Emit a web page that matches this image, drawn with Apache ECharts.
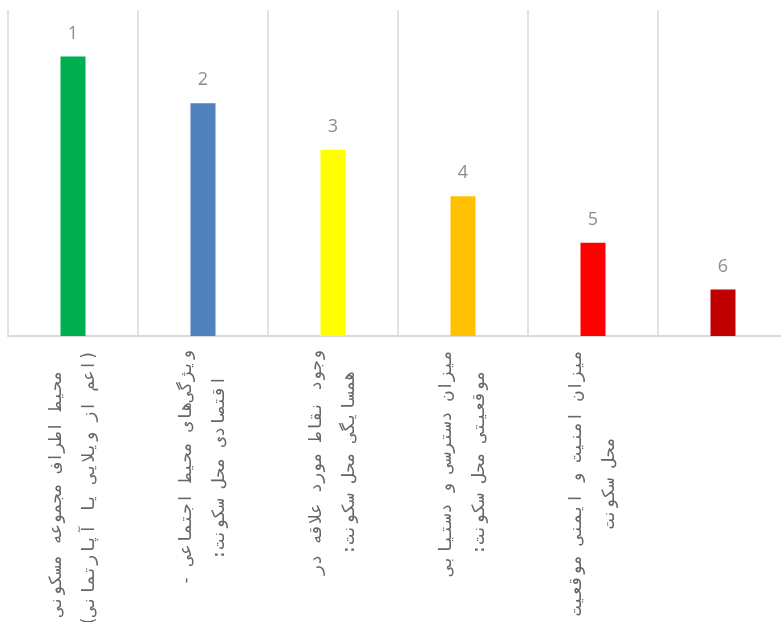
<!DOCTYPE html>
<html>
<head>
<meta charset="utf-8">
<script src="https://cdn.jsdelivr.net/npm/echarts@6/dist/echarts.min.js"></script>
<style>html,body{margin:0;padding:0;background:#fff;}#c{width:781px;height:622px;}</style>
</head>
<body>
<div id="c"></div>
<script>
const categories = [
  ['محیط اطراف مجموعه مسکونی', '(اعم از ویلایی یا آپارتمانی):'],
  ['ویژگی‌های محیط اجتماعی -', 'اقتصادی محل سکونت:'],
  ['وجود نقاط مورد علاقه در', 'همسایگی محل سکونت:'],
  ['میزان دسترسی و دستیابی', 'موقعیتی محل سکونت:'],
  ['میزان امنیت و ایمنی موقعیت', 'محل سکونت'],
  ['', '']
];
const values = [6, 5, 4, 3, 2, 1];
const rankLabels = ['1', '2', '3', '4', '5', '6'];
const colors = ['#00b050', '#4f81bd', '#ffff00', '#ffc000', '#ff0000', '#c00000'];

const RLM = '\u200F';
const catNames = categories.map((c, i) => 'c' + i);

const chart = echarts.init(document.getElementById('c'));
chart.setOption({
  animation: false,
  grid: { left: 8, width: 780, top: 10, bottom: 286, containLabel: false, outerBoundsMode: 'none' },
  xAxis: {
    type: 'category',
    data: catNames,
    axisLine: { show: true, lineStyle: { color: '#d9d9d9', width: 2 } },
    axisTick: { show: false },
    splitLine: { show: true, lineStyle: { color: '#d9d9d9', width: 1.5 } },
    axisLabel: {
      interval: 0,
      rotate: 90,
      margin: 14,
      formatter: function (v, idx) {
        const c = categories[idx];
        if (!c[0]) return '';
        return '{a|' + RLM + c[0] + RLM + '}\n{a|' + RLM + c[1] + RLM + '}';
      },
      rich: {
        a: {
          align: 'center',
          fontFamily: 'DejaVu Sans Mono',
          fontSize: 17,
          color: '#666666',
          lineHeight: 33
        }
      }
    }
  },
  yAxis: {
    type: 'value',
    min: 0,
    max: 7,
    show: false,
    splitLine: { show: false }
  },
  series: [{
    type: 'bar',
    barWidth: 25,
    data: values.map((v, i) => ({ value: v, itemStyle: { color: colors[i] } })),
    label: {
      show: true,
      position: 'top',
      distance: 14,
      fontSize: 18,
      fontFamily: 'Open Sans',
      color: '#8c8c8c',
      formatter: function (p) { return rankLabels[p.dataIndex]; }
    }
  }]
});
</script>
</body>
</html>
